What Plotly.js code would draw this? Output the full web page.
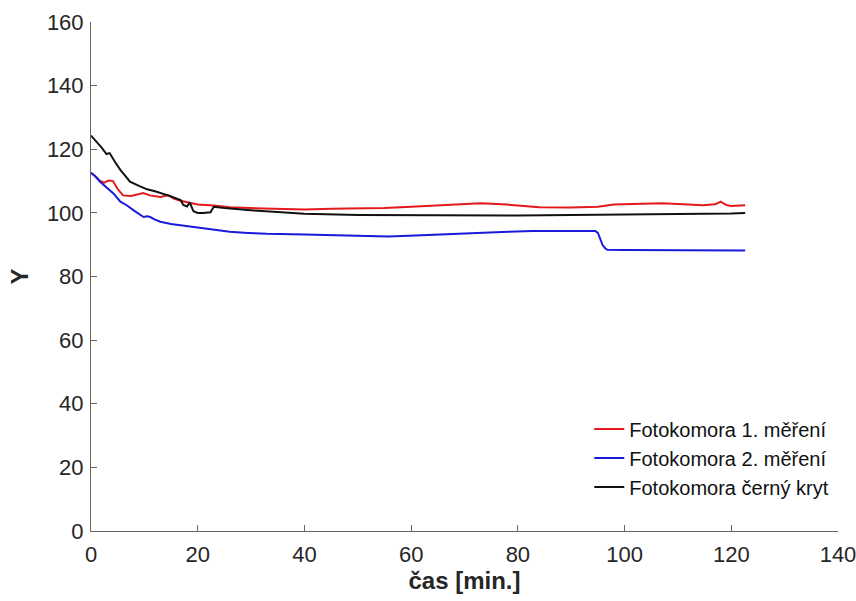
<!DOCTYPE html>
<html>
<head>
<meta charset="utf-8">
<script src="https://cdn.plot.ly/plotly-3.0.1.min.js"></script>
<style>html,body{margin:0;padding:0;background:#fff;}#chart{width:856px;height:601px;}</style>
</head>
<body>
<div id="chart"></div>
<script>
const seriesNames = ["Fotokomora 1. měření", "Fotokomora 2. měření", "Fotokomora černý kryt"];

const redT = [0, 0.8, 1.7, 2.5, 3.3, 4.1, 5.0, 6.0, 7.5, 9, 9.8, 11, 13, 14.5, 15.5, 16.8, 18, 20, 23, 26, 30, 35, 40, 45, 50, 55, 60, 65, 68, 73, 78, 84, 90, 95, 98, 103, 107, 111, 114.7, 117, 118, 119, 120, 122.6];
const redY = [112.5, 111.5, 110, 109.5, 110.2, 110, 107.5, 105.5, 105.3, 106, 106.2, 105.5, 105, 105.5, 104.5, 103.8, 103.3, 102.6, 102.3, 101.8, 101.5, 101.2, 101.1, 101.3, 101.4, 101.5, 101.9, 102.3, 102.7, 103, 102.6, 101.8, 101.7, 101.9, 102.6, 102.8, 103, 102.7, 102.4, 102.7, 103.5, 102.5, 102.2, 102.4];

const blueT = [0, 0.8, 1.7, 3, 4.2, 5.5, 6.7, 8, 9.85, 10.5, 11.1, 12, 13, 15, 16.8, 20, 23, 26, 29.4, 33, 40, 48, 55.7, 62, 71.4, 77, 82.7, 88, 94.5, 95, 95.5, 95.9, 96.4, 96.8, 100, 110, 122.6];
const blueY = [112.6, 111.5, 109.8, 107.8, 106.1, 103.5, 102.4, 100.8, 98.7, 98.9, 98.7, 97.9, 97.2, 96.5, 96.1, 95.4, 94.8, 94.1, 93.7, 93.4, 93.2, 93, 92.6, 93, 93.7, 94, 94.3, 94.4, 94.3, 93.7, 91.5, 89.8, 88.8, 88.4, 88.3, 88.2, 88.2];

const blackT = [0, 1, 2, 2.9, 3.5, 4.5, 5.5, 6.5, 7.3, 9, 10.5, 12, 13, 15, 16.8, 17.3, 18, 18.5, 19.2, 20, 21, 22.4, 23, 25, 30, 35.6, 40, 50, 60, 70, 80, 90, 100, 110, 115, 120, 122.6];
const blackY = [124.3, 122.5, 120.5, 118.5, 118.8, 116, 113.5, 111.5, 109.8, 108.5, 107.4, 106.8, 106.3, 105.2, 104, 102.5, 102, 103.3, 100.5, 100, 100, 100.2, 101.9, 101.5, 100.8, 100.1, 99.7, 99.3, 99.2, 99.2, 99.2, 99.3, 99.4, 99.5, 99.6, 99.8, 100];

const xTicks = [0, 20, 40, 60, 80, 100, 120, 140];
const yTicks = [0, 20, 40, 60, 80, 100, 120, 140, 160];

const FONT = "Liberation Sans, Arial, sans-serif";

const traces = [
  {x: redT, y: redY, name: seriesNames[0], mode: "lines", line: {color: "#e3191c", width: 2}},
  {x: blueT, y: blueY, name: seriesNames[1], mode: "lines", line: {color: "#1a1adb", width: 2}},
  {x: blackT, y: blackY, name: seriesNames[2], mode: "lines", line: {color: "#111111", width: 2}}
];

const axisCommon = {
  showgrid: false, zeroline: false, showline: true, linecolor: "#666666", linewidth: 1,
  ticks: "inside", ticklen: 6, tickcolor: "#666666", tickwidth: 1,
  ticklabeloverflow: "allow",
  tickfont: {family: FONT, size: 22, color: "#262626"}
};

const layout = {
  width: 856, height: 601,
  margin: {l: 91, r: 18, t: 22, b: 70},
  paper_bgcolor: "#ffffff", plot_bgcolor: "#ffffff",
  showlegend: true,
  legend: {x: 0.995, y: 0.048, xanchor: "right", yanchor: "bottom", bgcolor: "rgba(0,0,0,0)",
    font: {family: FONT, size: 20, color: "#111"}, tracegroupgap: 0, itemwidth: 30},
  xaxis: Object.assign({}, axisCommon, {range: [0, 140], tickvals: xTicks, ticktext: xTicks.map(String),
    ticklabelstandoff: 4,
    title: {text: "<b>čas [min.]</b>", font: {family: FONT, size: 24, color: "#262626"}, standoff: 0}}),
  yaxis: Object.assign({}, axisCommon, {range: [0, 160], tickvals: yTicks, ticktext: yTicks.map(String),
    ticklabelstandoff: 2,
    title: {text: "<b>Y</b>", font: {family: FONT, size: 24, color: "#262626"}, standoff: 11}})
};

Plotly.newPlot("chart", traces, layout, {displayModeBar: false, staticPlot: true});
</script>
</body>
</html>
